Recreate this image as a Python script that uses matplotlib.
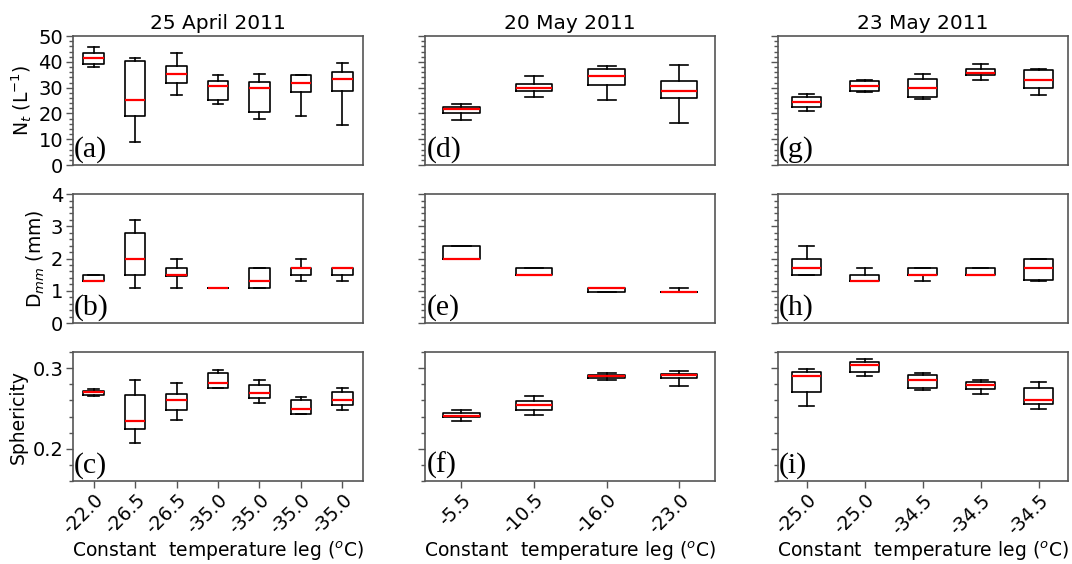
import matplotlib.pyplot as plt
from matplotlib.ticker import MultipleLocator


#box statistics for each flight: whisker low, q1, median, q3, whisker high

dates = ['25 April 2011', '20 May 2011', '23 May 2011']

temps_apr25 = ['-22.0', '-26.5', '-26.5', '-35.0', '-35.0', '-35.0', '-35.0']
temps_may20 = ['-5.5', '-10.5', '-16.0', '-23.0']
temps_may23 = ['-25.0', '-25.0', '-34.5', '-34.5', '-34.5']

nt_apr25 = [[38.2, 39.0, 41.5, 43.5, 45.6],
            [8.9, 18.9, 25.3, 40.4, 41.7],
            [27.3, 32.0, 35.4, 38.6, 43.4],
            [23.8, 25.3, 30.6, 32.7, 35.0],
            [18.0, 20.7, 29.7, 32.3, 35.5],
            [18.9, 28.3, 32.0, 35.0, 35.0],
            [15.4, 28.9, 33.3, 36.2, 39.4]]
nt_may20 = [[17.6, 20.3, 21.6, 22.6, 23.5],
            [26.5, 28.8, 30.0, 31.4, 34.6],
            [25.3, 31.0, 34.5, 37.1, 38.4],
            [16.3, 26.0, 28.9, 32.7, 38.8]]
nt_may23 = [[20.8, 22.6, 24.5, 26.2, 27.5],
            [28.2, 28.9, 30.7, 32.4, 32.8],
            [25.5, 26.5, 29.8, 33.2, 35.4],
            [32.8, 34.9, 35.7, 37.1, 39.1],
            [27.1, 29.8, 32.9, 36.7, 37.2]]

dmm_apr25 = [[1.3, 1.3, 1.3, 1.5, 1.5],
             [1.1, 1.5, 2.0, 2.8, 3.2],
             [1.1, 1.45, 1.5, 1.7, 2.0],
             [1.1, 1.1, 1.1, 1.1, 1.1],
             [1.1, 1.1, 1.3, 1.7, 1.7],
             [1.3, 1.5, 1.7, 1.7, 2.0],
             [1.3, 1.5, 1.7, 1.7, 1.7]]
dmm_may20 = [[2.0, 2.0, 2.0, 2.4, 2.4],
             [1.5, 1.5, 1.5, 1.7, 1.7],
             [0.95, 0.95, 1.1, 1.1, 1.1],
             [0.95, 0.95, 0.95, 0.95, 1.1]]
dmm_may23 = [[1.5, 1.5, 1.7, 2.0, 2.4],
             [1.3, 1.3, 1.3, 1.5, 1.7],
             [1.3, 1.5, 1.5, 1.7, 1.7],
             [1.5, 1.5, 1.5, 1.7, 1.7],
             [1.3, 1.35, 1.7, 2.0, 2.0]]

sph_apr25 = [[0.266, 0.267, 0.270, 0.272, 0.274],
             [0.207, 0.224, 0.235, 0.267, 0.286],
             [0.236, 0.248, 0.261, 0.268, 0.282],
             [0.275, 0.276, 0.282, 0.294, 0.298],
             [0.257, 0.263, 0.269, 0.279, 0.286],
             [0.243, 0.243, 0.250, 0.261, 0.264],
             [0.248, 0.255, 0.261, 0.270, 0.276]]
sph_may20 = [[0.234, 0.239, 0.241, 0.244, 0.248],
             [0.242, 0.248, 0.254, 0.259, 0.266],
             [0.286, 0.288, 0.290, 0.291, 0.294],
             [0.278, 0.288, 0.291, 0.293, 0.297]]
sph_may23 = [[0.253, 0.271, 0.290, 0.295, 0.299],
             [0.290, 0.295, 0.304, 0.308, 0.311],
             [0.273, 0.275, 0.286, 0.291, 0.294],
             [0.268, 0.274, 0.279, 0.283, 0.286],
             [0.250, 0.256, 0.260, 0.276, 0.283]]


rows = [[nt_apr25, nt_may20, nt_may23],
        [dmm_apr25, dmm_may20, dmm_may23],
        [sph_apr25, sph_may20, sph_may23]]
temps = [temps_apr25, temps_may20, temps_may23]
ylabels = ['N$_t$ (L$^{-1}$)', 'D$_{mm}$ (mm)', 'Sphericity']
ylims = [(0, 50), (0, 4), (0.16, 0.32)]
major = [10, 1, 0.1]
minor = [2, 0.2, 0.02]
letters = 'abcdefghi'


def to_stats(boxes):
    out = []
    for lo, q1, med, q3, hi in boxes:
        out.append({'whislo': lo, 'q1': q1, 'med': med, 'q3': q3,
                    'whishi': hi, 'fliers': []})
    return out


#plot graph

fig, axes = plt.subplots(3, 3, figsize=(10.72, 5.64), dpi=100)
fig.subplots_adjust(left=0.068, right=0.996, bottom=0.147, top=0.936,
                    wspace=0.214, hspace=0.225)

spine_col = '#555555'
for r in range(3):
    for c in range(3):
        ax = axes[r, c]
        ax.bxp(to_stats(rows[r][c]), widths=0.5, showfliers=False,
               boxprops=dict(color='black', linewidth=1.2),
               whiskerprops=dict(color='black', linewidth=1.2),
               capprops=dict(color='black', linewidth=1.2),
               medianprops=dict(color='red', linewidth=1.6))
        ax.set_xlim(0.5, len(rows[r][c]) + 0.5)
        ax.set_ylim(*ylims[r])
        ax.yaxis.set_major_locator(MultipleLocator(major[r]))
        ax.yaxis.set_minor_locator(MultipleLocator(minor[r]))
        ax.tick_params(axis='y', which='major', length=5, width=1,
                       color=spine_col, labelsize=14, right=False, pad=2)
        ax.tick_params(axis='y', which='minor', length=3, width=1,
                       color=spine_col, right=False)
        ax.tick_params(axis='x', length=5, width=1, color=spine_col,
                       labelsize=13.5, top=False, pad=2)
        for s in ax.spines.values():
            s.set_color(spine_col)
            s.set_linewidth(1.2)
        if c == 0:
            ax.set_ylabel(ylabels[r], fontsize=13.5, labelpad=3)
        else:
            ax.set_yticklabels([])
        if r == 0:
            ax.set_title(dates[c], fontsize=14.5, pad=5)
        if r == 2:
            ax.set_xticklabels(temps[c], rotation=45, ha='right',
                               rotation_mode='anchor')
            ax.set_xlabel('Constant  temperature leg ($^o$C)', fontsize=13.5,
                          labelpad=1)
        else:
            ax.set_xticks([])
        ax.text(0.004, 0.015, '(' + letters[c * 3 + r] + ')',
                transform=ax.transAxes, fontsize=21.5,
                family='Liberation Serif', ha='left', va='bottom')

plt.savefig('out.png', dpi=100)
